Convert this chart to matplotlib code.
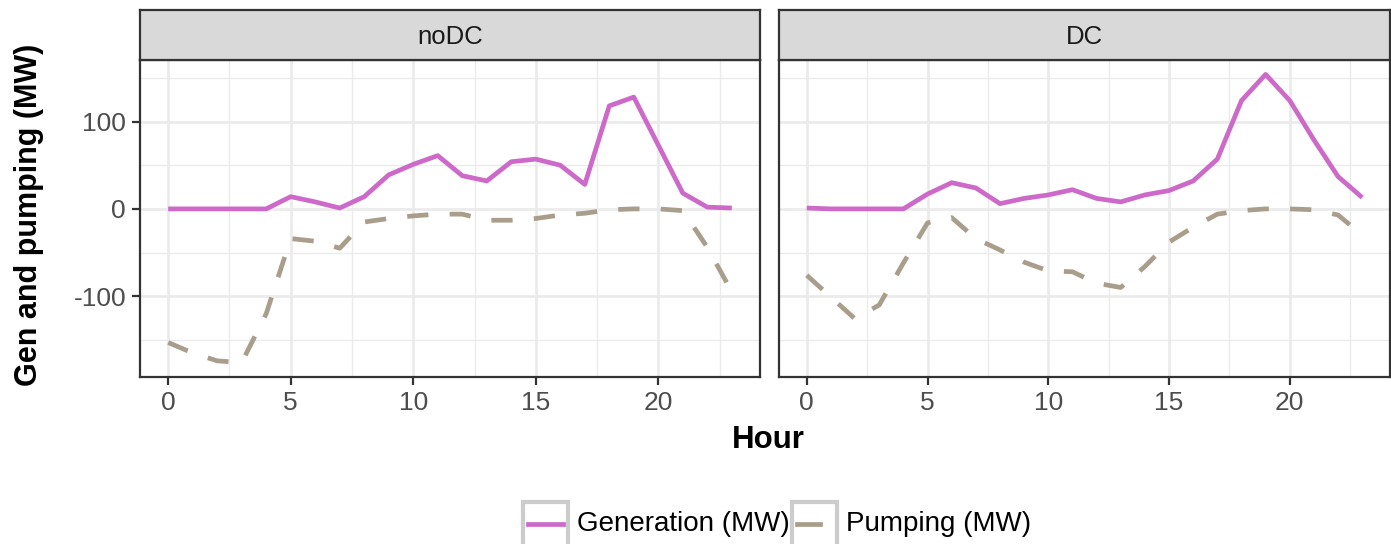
import matplotlib
matplotlib.use("Agg")
import matplotlib.pyplot as plt
from matplotlib.patches import Rectangle
from matplotlib.lines import Line2D

# data
hours = list(range(24))
panels = ["noDC", "DC"]
gen_nodc = [0, 0, 0, 0, 0, 14, 8, 1, 14, 39, 51, 61, 38, 32, 54, 57, 50, 28,
            118, 128, 73, 18, 2, 1]
pump_nodc = [-153, -165, -174, -176, -120, -34, -37, -45, -15, -11, -8, -6, -6,
             -13, -13, -11, -7, -5, -1, 0, 0, -2, -44, -95]
gen_dc = [1, 0, 0, 0, 0, 17, 30, 24, 6, 12, 16, 22, 12, 8, 16, 21, 32, 57,
          124, 154, 124, 79, 37, 13]
pump_dc = [-76, -101, -126, -110, -62, -16, -10, -34, -47, -61, -71, -72, -85,
           -90, -66, -38, -21, -6, -2, 0, 0, -1, -7, -30]
gen_label = "Generation (MW)"
pump_label = "Pumping (MW)"

gen_col = "#CD69C9"
pump_col = "#A89E8B"
dark = "#333333"

plt.rcParams['font.family'] = ['Liberation Sans', 'DejaVu Sans']
plt.rcParams['axes.unicode_minus'] = False

W, H = 1391, 544
fig = plt.figure(figsize=(W / 100, H / 100), dpi=100)


def pos(x0, y0, x1, y1):
    return [x0 / W, 1 - y1 / H, (x1 - x0) / W, (y1 - y0) / H]


allv = gen_nodc + pump_nodc + gen_dc + pump_dc
lo, hi = min(allv), max(allv)
pad = (hi - lo) * 0.05

data = {"noDC": (gen_nodc, pump_nodc), "DC": (gen_dc, pump_dc)}
xs = [(140, 760), (779, 1390)]
LW = 3.4

for i, name in enumerate(panels):
    x0, x1 = xs[i]
    ax = fig.add_axes(pos(x0, 60, x1, 377))
    g, p = data[name]
    ax.plot(hours, g, color=gen_col, lw=LW, solid_capstyle="butt", zorder=3)
    lp, = ax.plot(hours, p, color=pump_col, lw=LW, zorder=3)
    lp.set_dashes([4.5, 4.5])
    lp.set_dash_capstyle("butt")
    ax.set_xlim(-1.15, 24.15)
    ax.set_ylim(lo - pad, hi + pad)
    ax.set_xticks([0, 5, 10, 15, 20])
    ax.set_xticks([2.5, 7.5, 12.5, 17.5, 22.5], minor=True)
    ax.set_yticks([-100, 0, 100])
    ax.set_yticks([-150, -50, 50, 150], minor=True)
    ax.grid(which="major", color="#EBEBEB", lw=2.0, zorder=0)
    ax.grid(which="minor", color="#EBEBEB", lw=1.0, zorder=0)
    ax.set_axisbelow(True)
    for s in ax.spines.values():
        s.set_color(dark)
        s.set_linewidth(1.6)
    ax.tick_params(which="major", length=6, width=1.6, color=dark,
                   labelsize=19, labelcolor="#4D4D4D", pad=4)
    ax.tick_params(which="minor", length=0)
    if i > 0:
        ax.tick_params(axis="y", left=False, labelleft=False)

    sx = fig.add_axes(pos(x0, 10, x1, 60))
    sx.set_xticks([])
    sx.set_yticks([])
    sx.set_facecolor("#D9D9D9")
    for s in sx.spines.values():
        s.set_color(dark)
        s.set_linewidth(1.6)
    sx.text(0.5, 0.46, name, ha="center", va="center", fontsize=18.5,
            color="#1A1A1A", transform=sx.transAxes)

fig.text(768 / W, 1 - 440 / H, "Hour", ha="center", va="center",
         fontsize=22.5, fontweight="bold")
fig.text(29 / W, 1 - 215 / H, "Gen and pumping (MW)", ha="center",
         va="center", rotation=90, fontsize=22, fontweight="bold")

# legend at the bottom
lx = fig.add_axes([0, 0, 1, 1], facecolor="none")
lx.set_xlim(0, W)
lx.set_ylim(H, 0)
lx.axis("off")
for kx, col, lab, dashed in [(523, gen_col, gen_label, False),
                             (792, pump_col, pump_label, True)]:
    lx.add_patch(Rectangle((kx, 502), 45, 50, facecolor="white",
                           edgecolor="#CCCCCC", lw=3))
    if dashed:
        ln = Line2D([kx + 5, kx + 28], [524, 524], color=col, lw=LW)
    else:
        ln = Line2D([kx + 5, kx + 40], [524, 524], color=col, lw=LW)
    lx.add_line(ln)
    lx.text(kx + 54, 524, lab, ha="left", va="center", fontsize=20)

fig.savefig("out.png", dpi=100)
